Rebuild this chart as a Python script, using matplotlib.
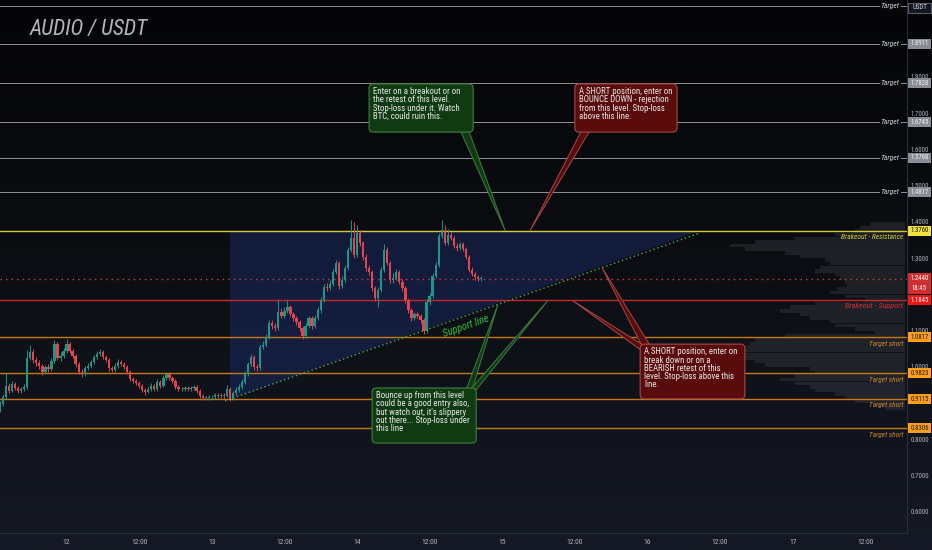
import os
import numpy as np
import matplotlib.pyplot as plt
import matplotlib.transforms as mtransforms
from matplotlib import font_manager
from matplotlib.font_manager import FontProperties
from matplotlib.colors import LinearSegmentedColormap
from matplotlib.patches import Polygon, FancyBboxPatch, Rectangle

# 30 min candles, x axis in hours from the 12th 00:00
first_hour = -11.0
candle_step = 0.5
first_open = 0.882

close = [
    0.898, 0.917, 0.948, 0.934, 0.953, 0.942, 0.934, 0.939, 0.945, 1.025,
    1.041, 1.019, 1.011, 1.003, 0.986, 1.000, 0.994, 1.017, 1.063, 1.025,
    1.030, 1.044, 1.063, 1.044, 1.030, 1.008, 0.986, 0.981, 0.997, 1.003,
    1.014, 1.028, 1.036, 1.041, 1.028, 1.019, 0.997, 0.992, 1.003, 1.014,
    1.008, 1.000, 0.986, 0.967, 0.961, 0.956, 0.948, 0.937, 0.931, 0.939,
    0.948, 0.939, 0.959, 0.948, 0.970, 0.981, 0.970, 0.961, 0.945, 0.939,
    0.939, 0.942, 0.939, 0.942, 0.945, 0.934, 0.920, 0.915, 0.915, 0.917,
    0.917, 0.923, 0.920, 0.923, 0.920, 0.939, 0.912, 0.928, 0.937, 0.945,
    0.959, 0.981, 1.008, 1.028, 1.000, 0.997, 1.055, 1.061, 1.083, 1.121,
    1.113, 1.108, 1.152, 1.141, 1.155, 1.166, 1.146, 1.135, 1.124, 1.108,
    1.086, 1.113, 1.135, 1.113, 1.135, 1.157, 1.185, 1.221, 1.218, 1.229,
    1.262, 1.287, 1.223, 1.240, 1.273, 1.323, 1.356, 1.309, 1.370, 1.342,
    1.304, 1.273, 1.262, 1.218, 1.190, 1.212, 1.268, 1.323, 1.287, 1.240,
    1.246, 1.262, 1.235, 1.218, 1.185, 1.157, 1.135, 1.146, 1.141, 1.130,
    1.099, 1.179, 1.196, 1.251, 1.281, 1.361, 1.378, 1.342, 1.364, 1.356,
    1.334, 1.328, 1.339, 1.326, 1.304, 1.268, 1.257, 1.248, 1.243, 1.244,
]
high = [
    0.905, 0.925, 0.983, 0.955, 0.962, 0.958, 0.947, 0.945, 0.952, 1.047,
    1.061, 1.050, 1.028, 1.019, 1.008, 1.006, 1.008, 1.025, 1.075, 1.070,
    1.040, 1.052, 1.077, 1.070, 1.050, 1.036, 1.013, 0.994, 1.004, 1.010,
    1.020, 1.034, 1.044, 1.050, 1.046, 1.034, 1.024, 1.004, 1.010, 1.022,
    1.020, 1.014, 1.006, 0.992, 0.973, 0.968, 0.962, 0.953, 0.942, 0.946,
    0.955, 0.953, 0.966, 0.964, 0.977, 0.987, 0.985, 0.975, 0.966, 0.950,
    0.946, 0.948, 0.947, 0.948, 0.951, 0.950, 0.939, 0.925, 0.921, 0.923,
    0.924, 0.929, 0.928, 0.929, 0.928, 0.950, 0.944, 0.934, 0.944, 0.952,
    0.966, 0.988, 1.015, 1.036, 1.034, 1.008, 1.062, 1.072, 1.092, 1.130,
    1.130, 1.120, 1.185, 1.163, 1.166, 1.185, 1.172, 1.152, 1.141, 1.130,
    1.114, 1.120, 1.142, 1.140, 1.143, 1.165, 1.193, 1.230, 1.232, 1.240,
    1.270, 1.296, 1.293, 1.250, 1.282, 1.332, 1.405, 1.400, 1.392, 1.378,
    1.348, 1.312, 1.281, 1.268, 1.224, 1.220, 1.276, 1.340, 1.330, 1.293,
    1.258, 1.270, 1.268, 1.242, 1.224, 1.190, 1.162, 1.153, 1.152, 1.147,
    1.136, 1.187, 1.204, 1.258, 1.290, 1.370, 1.405, 1.392, 1.380, 1.372,
    1.362, 1.341, 1.346, 1.345, 1.332, 1.310, 1.275, 1.263, 1.254, 1.250,
]
low = [
    0.876, 0.893, 0.912, 0.928, 0.930, 0.936, 0.928, 0.929, 0.934, 0.940,
    1.018, 1.012, 1.003, 0.995, 0.979, 0.980, 0.987, 0.990, 1.012, 1.018,
    1.016, 1.024, 1.039, 1.038, 1.024, 1.001, 0.980, 0.972, 0.976, 0.991,
    0.998, 1.009, 1.022, 1.030, 1.022, 1.013, 0.990, 0.985, 0.987, 0.998,
    1.002, 0.994, 0.980, 0.960, 0.955, 0.950, 0.942, 0.930, 0.924, 0.927,
    0.934, 0.933, 0.935, 0.942, 0.944, 0.965, 0.964, 0.955, 0.939, 0.933,
    0.933, 0.934, 0.933, 0.935, 0.937, 0.928, 0.914, 0.909, 0.909, 0.910,
    0.911, 0.912, 0.914, 0.915, 0.914, 0.916, 0.906, 0.908, 0.922, 0.931,
    0.940, 0.954, 0.976, 1.002, 0.993, 0.990, 0.992, 1.049, 1.056, 1.078,
    1.106, 1.100, 1.103, 1.134, 1.135, 1.150, 1.140, 1.128, 1.117, 1.100,
    1.078, 1.081, 1.108, 1.106, 1.108, 1.130, 1.150, 1.180, 1.210, 1.212,
    1.224, 1.256, 1.216, 1.217, 1.235, 1.268, 1.318, 1.302, 1.304, 1.335,
    1.296, 1.265, 1.255, 1.210, 1.182, 1.166, 1.206, 1.262, 1.280, 1.232,
    1.232, 1.240, 1.228, 1.210, 1.177, 1.150, 1.128, 1.130, 1.134, 1.122,
    1.090, 1.095, 1.172, 1.190, 1.245, 1.276, 1.355, 1.336, 1.337, 1.349,
    1.327, 1.320, 1.322, 1.319, 1.297, 1.261, 1.250, 1.241, 1.237, 1.238,
]

# visible range volume profile, 0.01 bins from 0.88 to 1.40
vp_bottom = 0.88
vp_bin = 0.01
vp_volume = [
    20, 30, 50, 60, 70, 90, 95, 110, 125, 110,
    90, 95, 140, 150, 175, 170, 165, 160, 155, 150,
    120, 30, 50, 70, 75, 95, 105, 125, 115, 90,
    40, 60, 75, 68, 58, 60, 65, 70, 90, 85,
    75, 80, 105, 120, 160, 175, 150, 110, 70, 50,
    45, 35,
]

targets = [1.996, 1.8911, 1.7828, 1.6745, 1.5768, 1.4817]
resistance = 1.3760
last_price = 1.2440
bar_countdown = '18:45'
support = 1.1845
targets_short = [1.0817, 0.9823, 0.9115, 0.8306]

# rising support trend line (hour, price)
trend_start = (26.2, 0.9067)
trend_end = (104.7, 1.3697)
triangle_left = 27.0

price_ticks = [0.6, 0.7, 0.8, 1.0, 1.1, 1.3, 1.4, 1.5, 1.6, 1.7, 1.8]
day_ticks = [0, 12, 24, 36, 48, 60, 72, 84, 96, 108, 120, 132]
day_labels = ['12', '12:00', '13', '12:00', '14', '12:00', '15', '12:00',
              '16', '12:00', '17', '12:00']

note_breakout = "Enter on a breakout or on\nthe retest of this level.\nStop-loss under it. Watch\nBTC, could ruin this."
note_bounce_down = "A SHORT position, enter on\nBOUNCE DOWN - rejection\nfrom this level. Stop-loss\nabove this line."
note_bounce_up = "Bounce up from this level\ncould be a good entry also,\nbut watch out, it's slippery\nout there... Stop-loss under\nthis line"
note_break_down = "A SHORT position, enter on\nbreak down or on a\nBEARISH retest of this\nlevel. Stop-loss above this\nline."

UP = '#1f9585'
DOWN = '#e5444b'
GREY_TXT = '#b2b5be'


# a narrow font looks closest to the TradingView labels
def find_font(names):
    files = {os.path.splitext(os.path.basename(f.fname))[0]: f.fname
             for f in font_manager.fontManager.ttflist}
    for n in names:
        if n in files:
            return files[n]
    return None


REG_FILE = find_font(['LiberationSansNarrow-Regular', 'NotoSans-Condensed',
                      'RobotoCondensed-Regular', 'DejaVuSansCondensed',
                      'LiberationSans-Regular'])
ITA_FILE = find_font(['LiberationSansNarrow-Italic', 'NotoSans-CondensedItalic',
                      'RobotoCondensed-Italic', 'DejaVuSansCondensed-Oblique',
                      'LiberationSans-Italic'])


def fp(size, italic=False):
    path = ITA_FILE if italic else REG_FILE
    if path:
        return FontProperties(fname=path, size=size)
    return FontProperties(family='DejaVu Sans', size=size,
                          style='italic' if italic else 'normal')


def trend(h):
    slope = (trend_end[1] - trend_start[1]) / (trend_end[0] - trend_start[0])
    return trend_start[1] + slope * (h - trend_start[0])


closes = np.array(close)
opens = np.array([first_open] + close[:-1])
hours = first_hour + candle_step * np.arange(len(closes))

fig = plt.figure(figsize=(9.32, 5.5), dpi=100, facecolor='#131722')
renderer = fig.canvas.get_renderer()


def fit_width(artist, target_px):
    w = artist.get_window_extent(renderer).width
    artist.set_fontsize(artist.get_fontsize() * target_px / w)


def size_for(text, target_px, italic=False):
    t = fig.text(0, 0, text, fontproperties=fp(6, italic))
    fit_width(t, target_px)
    s = t.get_fontsize()
    t.remove()
    return s


bg = fig.add_axes([0, 0, 1, 1], zorder=-10)
bg_cmap = LinearSegmentedColormap.from_list('bg', ['#050507', '#0c0e13', '#151925'])
bg.imshow(np.linspace(0, 1, 256).reshape(-1, 1), aspect='auto', cmap=bg_cmap,
          extent=[0, 1, 0, 1], origin='upper')
bg.axis('off')

ax = fig.add_axes([0, 17 / 550, 907 / 932, 533 / 550])
ax.set_facecolor('none')
ax.set_xlim(-11.0, 138.9)
ax.set_ylim(0.542, 2.0124)

for side in ['top', 'left']:
    ax.spines[side].set_visible(False)
for side in ['right', 'bottom']:
    ax.spines[side].set_color('#2a2e39')
    ax.spines[side].set_linewidth(0.8)

# axis labels, sized so they fill the price scale like the reference
tick_size = size_for('1.8000', 19)
time_size = size_for('12:00', 17)
note_size = size_for('Enter on a breakout or on', 86)

ax.yaxis.tick_right()
ax.set_yticks(price_ticks)
ax.set_yticklabels([f'{p:.4f}' for p in price_ticks], fontproperties=fp(tick_size))
ax.set_xticks(day_ticks)
ax.set_xticklabels(day_labels, fontproperties=fp(time_size))
ax.tick_params(axis='y', length=0, pad=2.5, labelcolor=GREY_TXT)
ax.tick_params(axis='x', length=0, pad=4, labelcolor=GREY_TXT)

# title watermark
title = ax.text(0.033, 0.965, 'AUDIO / USDT', transform=ax.transAxes,
                fontproperties=fp(19, italic=True), color='#b2b5be',
                ha='left', va='top')
fit_width(title, 118)

# triangle zone
tri = Polygon([(triangle_left, resistance), (trend_end[0], resistance),
               (triangle_left, trend(triangle_left))], closed=True,
              fc='#1b2a66', ec='none', alpha=0.5, zorder=1)
ax.add_patch(tri)

# volume profile
vp_prices = vp_bottom + vp_bin * (np.arange(len(vp_volume)) + 0.5)
vp_width = np.array(vp_volume) / max(vp_volume) * 29.0
ax.barh(vp_prices, -vp_width, left=138.6, height=vp_bin * 0.95,
        color='#6a6d77', alpha=0.2, lw=0, zorder=1.5)

# horizontal levels
for t in targets:
    ax.axhline(t, color='#8d9099', lw=0.7, zorder=2)
    lab = ax.text(137.7, t, 'Target', ha='right', va='center',
                  fontproperties=fp(6, italic=True), color='#d1d4dc', zorder=2.2,
                  bbox=dict(fc='#08090c', ec='none', pad=0.6))
    fit_width(lab, 19)
ax.axhline(resistance, color='#d6c935', lw=1.0, zorder=2)
lab = ax.text(138.3, resistance - 0.009, 'Brakeout - Resistance', ha='right',
              va='top', fontproperties=fp(6, italic=True), color='#d8d13a',
              zorder=2.2)
fit_width(lab, 62)
ax.axhline(last_price, color='#e53935', lw=1.0, ls=(0, (1, 3)), zorder=2)
ax.axhline(support, color='#c62828', lw=1.0, zorder=2)
lab = ax.text(138.3, support - 0.009, 'Brakeout - Support', ha='right',
              va='top', fontproperties=fp(6, italic=True), color='#d32f2f',
              zorder=2.2)
fit_width(lab, 58)
for t in targets_short:
    ax.axhline(t, color='#c47a14', lw=1.0, zorder=2)
    lab = ax.text(138.3, t - 0.009, 'Target short', ha='right', va='top',
                  fontproperties=fp(6, italic=True), color='#d08a2a', zorder=2.2)
    fit_width(lab, 35)

# candles
up = closes >= opens
colors = np.where(up, UP, DOWN)
ax.vlines(hours, low, high, colors=colors, lw=0.7, zorder=3)
body = np.maximum(np.abs(closes - opens), 0.0015)
ax.bar(hours, body, bottom=np.minimum(opens, closes), width=0.38,
       color=colors, lw=0, zorder=3.1)

# support trend line
ax.plot([trend_start[0], trend_end[0]], [trend_start[1], trend_end[1]],
        color='#4caf50', lw=1.0, ls=(0, (1, 2)), zorder=3.5)
slope_deg = np.degrees(np.arctan((trend_end[1] - trend_start[1]) /
                                 (trend_end[0] - trend_start[0])))
sup_lab = ax.text(66.0, trend(66.0) - 0.030, 'Support line', ha='center',
                  va='center', fontproperties=fp(7, italic=True),
                  color='#33c43c', zorder=3.6)
fit_width(sup_lab, 48)
sup_lab.set_rotation(slope_deg)
sup_lab.set_transform_rotates_text(True)
sup_lab.set_rotation_mode('anchor')


# callouts
def callout(x0, x1, y0, y1, text, face, edge, pointers):
    for base_a, base_b, tip in pointers:
        ax.add_patch(Polygon([base_a, tip, base_b], closed=True, fc=face,
                             ec=edge, lw=0.7, zorder=4))
    box = FancyBboxPatch((x0, y0), x1 - x0, y1 - y0,
                         boxstyle='round,pad=0,rounding_size=0.7',
                         mutation_aspect=0.0167, fc=face, ec=edge, lw=0.8,
                         zorder=4.5)
    ax.add_patch(box)
    txt = ax.text(x0 + 0.65, y1 - 0.009, text, ha='left', va='top',
                  fontproperties=fp(note_size), linespacing=1.0,
                  color='#ececec', zorder=5)
    # line pitch of about 8 px as in the reference
    n = text.count('\n') + 1
    one = ax.text(0, 0, text.split('\n')[0], fontproperties=fp(note_size))
    h1 = one.get_window_extent(renderer).height
    one.remove()
    hn = txt.get_window_extent(renderer).height
    txt.set_linespacing(8.0 / ((hn - h1) / (n - 1)))


G_FACE, G_EDGE = '#0f3a12', '#3f7d3f'
R_FACE, R_EDGE = '#5a0b0b', '#a34a4a'

callout(50.0, 67.2, 1.648, 1.781, note_breakout, G_FACE, G_EDGE,
        [((65.0, 1.655), (66.4, 1.655), (72.5, resistance))])
callout(84.0, 100.9, 1.648, 1.781, note_bounce_down, R_FACE, R_EDGE,
        [((85.2, 1.655), (86.6, 1.655), (76.6, resistance))])
callout(50.5, 67.7, 0.790, 0.942, note_bounce_up, G_FACE, G_EDGE,
        [((66.0, 0.935), (67.0, 0.935), (71.3, trend(71.3))),
         ((66.6, 0.935), (67.6, 0.935), (79.6, support))])
callout(94.8, 112.1, 0.912, 1.063, note_break_down, R_FACE, R_EDGE,
        [((95.2, 1.055), (96.6, 1.055), (88.5, trend(88.5))),
         ((94.9, 1.047), (95.6, 1.057), (83.5, support))])

# price scale labels
scale = mtransforms.blended_transform_factory(ax.transAxes, ax.transData)
box_x, box_w, box_h = 1.0015, 0.0245, 0.0276


def price_box(y, text, fc, tc, top=None, height=box_h, ec='none'):
    if top is None:
        top = y + height / 2
    ax.add_patch(Rectangle((box_x, top - height), box_w, height, transform=scale,
                           fc=fc, ec=ec, lw=0.6, clip_on=False, zorder=8))
    return ax.text(box_x + box_w / 2, y, text, transform=scale, ha='center',
                   va='center', fontproperties=fp(tick_size), color=tc,
                   clip_on=False, zorder=9)


usdt = price_box(1.9917, 'USDT', '#131722', '#d1d4dc', ec='#6a6d77')
fit_width(usdt, 15)
for t in targets[1:]:
    price_box(t, f'{t:.4f}', '#8a8d95', '#f0f0f0')
price_box(resistance, f'{resistance:.4f}', '#f2e13a', '#111111')
price_box(last_price, f'{last_price:.4f}', '#d12f2f', '#ffffff',
          top=last_price + 0.014, height=0.056)
ax.text(box_x + box_w / 2, last_price - 0.027, bar_countdown, transform=scale,
        ha='center', va='center', fontproperties=fp(tick_size), color='#ffffff',
        clip_on=False, zorder=9)
price_box(support, f'{support:.4f}', '#f51414', '#ffffff')
for t in targets_short:
    price_box(t, f'{t:.4f}', '#ff9c1a', '#1a1a1a')

fig.savefig('out.png', dpi=100, facecolor=fig.get_facecolor())
